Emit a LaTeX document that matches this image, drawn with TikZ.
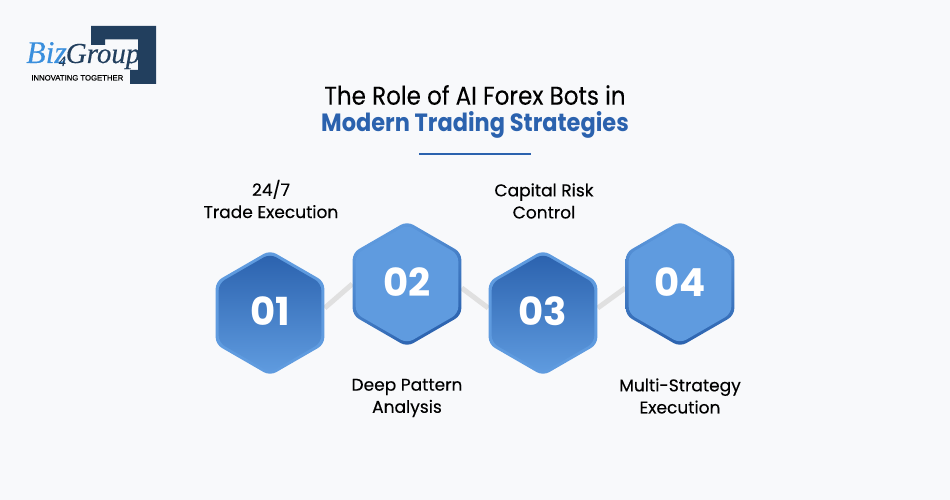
\documentclass[tikz,border=0pt]{standalone}
\usepackage{fontspec}
\setmainfont{Poppins}
\newfontfamily\medfont[FakeBold=0.25]{Poppins}
\newfontfamily\headfont[FakeStretch=0.9,FakeBold=0.15]{Poppins}
\newfontfamily\headboldfont[FakeStretch=0.9]{Poppins}
\newfontfamily\logofont[FakeBold=0.2]{Liberation Serif}
\newfontfamily\tagfont[FakeBold=0.3]{Liberation Sans}
\usetikzlibrary{shapes.geometric,backgrounds}
\definecolor{pagebg}{HTML}{F8F9FB}
\definecolor{hexdark}{HTML}{2B62AE}
\definecolor{hexlight}{HTML}{5F9BDF}
\definecolor{linkgray}{HTML}{E0E0E0}
\definecolor{logonavy}{HTML}{223F5E}
\definecolor{logoblue}{HTML}{3A8FDD}
\tikzset{%
  hexbase/.style  = {shape=regular polygon, regular polygon sides=6, shape border rotate=30,%
                     inner sep=0pt, rounded corners=.14cm},%
  hexrim/.style   = {hexbase, minimum size=2.51cm},%
  hexface/.style  = {hexbase, minimum size=2.37cm, text=white, text depth=.08cm,%
                     font=\bfseries\fontsize{22}{24}\selectfont},%
  hexlow/.style   = {hexface, top color=hexdark, bottom color=hexlight},%
  hexhigh/.style  = {hexface, fill=hexlight},%
  label/.style    = {align=center, font=\medfont\fontsize{9.7}{12.6}\selectfont, text=black},%
  link/.style     = {draw=linkgray, line width=.1cm}%
}

\begin{document}
\begin{tikzpicture}[x=.02cm, y=-.02cm]%
	% title
	\node (titletop) at (475,95) {\headfont\fontsize{14.6}{18}\selectfont The Role of AI Forex Bots in};
	\node[text=hexdark] (titlelow) at (475,125) {\headboldfont\bfseries\fontsize{14.2}{18}\selectfont Modern Trading Strategies};
	\coordinate (ruleleft) at (419,154);
	\coordinate (ruleright) at (531,154);
	\draw[hexdark, line width=.04cm] (ruleleft) -- (ruleright);
	% logo
	\fill[logonavy] (91,26) -- (156,26) -- (156,84) -- (130,84) -- (130,70) -- (138,70)
		-- (138,39.5) -- (105,39.5) -- (105,45) -- (91,45) -- cycle;
	\node[anchor=base west, inner sep=0pt, text=logonavy] (logoname) at (26,63)
		{\logofont\itshape\fontsize{18}{18}\selectfont\textcolor{logoblue}{Biz}%
		\hspace{-.16cm}\raisebox{-.06cm}{\fontsize{8}{8}\selectfont 4}%
		\fontsize{16.5}{18}\selectfont Group};
	\node[anchor=base west, inner sep=0pt] (logotag) at (31,80.5)
		{\tagfont\fontsize{4.4}{5}\selectfont INNOVATING TOGETHER};
	% hexagons
	\node[hexrim, fill=hexlight] (hexa) at (270,313) {};
	\node[hexlow] (facea) at (hexa.center) {01};
	\node[hexrim, left color=hexlight, right color=hexdark, shading angle=30] (hexb) at (407,284) {};
	\node[hexhigh] (faceb) at (hexb.center) {02};
	\node[hexrim, fill=hexlight] (hexc) at (543,313) {};
	\node[hexlow] (facec) at (hexc.center) {03};
	\node[hexrim, top color=hexlight, bottom color=hexdark] (hexd) at (680,284) {};
	\node[hexhigh] (faced) at (hexd.center) {04};
	% labels
	\node[label] (labela) at (271,199) {24/7\\Trade Execution};
	\node[label] (labelb) at (407,398) {Deep Pattern\\Analysis};
	\node[label] (labelc) at (544,201) {Capital Risk\\Control};
	\node[label] (labeld) at (680,396) {Multi-Strategy\\Execution};
	% links and page colour go under everything
	\begin{scope}[on background layer]
		\fill[pagebg] (0,0) rectangle (950,500);
		\draw[link] ([shift={(0,-5)}]hexa.east) -- ([shift={(0,0)}]hexb.west);
		\draw[link] ([shift={(0,4)}]hexb.east) -- ([shift={(0,-5)}]hexc.west);
		\draw[link] ([shift={(0,-5)}]hexc.east) -- ([shift={(0,4)}]hexd.west);
	\end{scope}
\end{tikzpicture}
\end{document}
